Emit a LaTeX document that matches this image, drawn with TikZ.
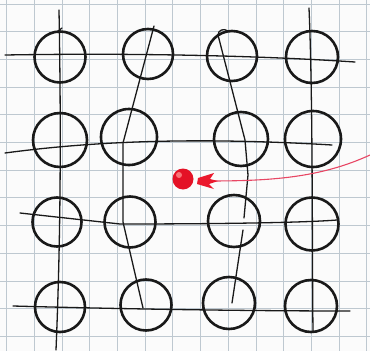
\documentclass[tikz,border=0pt]{standalone}
\usetikzlibrary{shapes.geometric}
\definecolor{gridc}{RGB}{190,200,208}
\definecolor{penc}{RGB}{25,25,25}
\definecolor{redc}{RGB}{235,25,45}
\definecolor{redball}{RGB}{228,18,38}
\definecolor{redline}{RGB}{232,70,100}
\tikzset{
  ring/.style={circle,draw=penc,line width=2.6pt,inner sep=0pt,minimum size=#1},
  ring/.default=50pt,
  wire/.style={draw=penc,line width=1.3pt,line cap=round},
  gridline/.style={draw=gridc,line width=0.9pt}
}
\begin{document}
\begin{tikzpicture}[x=1pt,y=-1pt]
\useasboundingbox (0,0) rectangle (370,351);
\fill[white!97!gray] (0,0) rectangle (370,351);
% grid paper
\foreach \i in {0,...,13} {
  \path[gridline] ({6.7+27.7*\i},0) -- ({6.7+27.7*\i},351);
}
\foreach \j in {0,...,12} {
  \path[gridline] (0,{4+27.7*\j}) -- (370,{4+27.7*\j});
}
% circles
\node[ring=51pt] (c11) at (60,57) {};
\node[ring=50pt] (c12) at (148,54) {};
\node[ring=50pt] (c13) at (232,56) {};
\node[ring=52pt] (c14) at (312,57) {};
\node[ring=54pt] (c21) at (60,140) {};
\node[ring=56pt] (c22) at (129,137) {};
\node[ring=54pt] (c23) at (241,139) {};
\node[ring=56pt] (c24) at (313,139) {};
\node[ring=49pt] (c31) at (57,222) {};
\node[ring=51pt] (c32) at (130,222) {};
\node[ring=52pt] (c33) at (234,221) {};
\node[ring=53pt] (c34) at (312,224) {};
\node[ring=50pt] (c41) at (60,307) {};
\node[ring=51pt] (c42) at (146,305) {};
\node[ring=52pt] (c43) at (229,303) {};
\node[ring=52pt] (c44) at (311,306) {};
% horizontal wires
\path[wire] (5,55) .. controls (120,53) and (250,55) .. (355,62);
\path[wire] (5,153) .. controls (80,143) and (180,136) .. (332,145);
\path[wire] (20,213) -- (120,224) .. controls (200,224) and (300,223) .. (337,220);
\path[wire] (13,306) .. controls (120,309) and (250,311) .. (350,311);
% vertical wires
\path[wire] (59,10) .. controls (61,120) and (61,230) .. (56,350);
\path[wire] (57,32) -- (62,28);
\path[wire] (154,26) -- (123,143) -- (123,222) -- (143,308);
\path[wire] (228,31) .. controls (224,28) and (218,30) .. (218,35) -- (245,140) -- (248,175) -- (244,218);
\path[wire] (243,230) -- (232,303);
\path[wire] (309,8) .. controls (313,100) and (312,250) .. (313,332);
% red pin
\path[draw=redline,line width=1.1pt] (208,181) .. controls (270,181) and (320,178) .. (370,155);
\fill[redc] (198,178) -- (214,173) -- (210,179) -- (218,181) -- (209,184) -- (214,189) -- (197,184) -- cycle;
\node[circle,inner sep=0pt,minimum size=21pt,fill=redball] (pin) at (183,179) {};
\fill[red!45!white,opacity=0.8] (179,175) circle (3pt);
\end{tikzpicture}
\end{document}
